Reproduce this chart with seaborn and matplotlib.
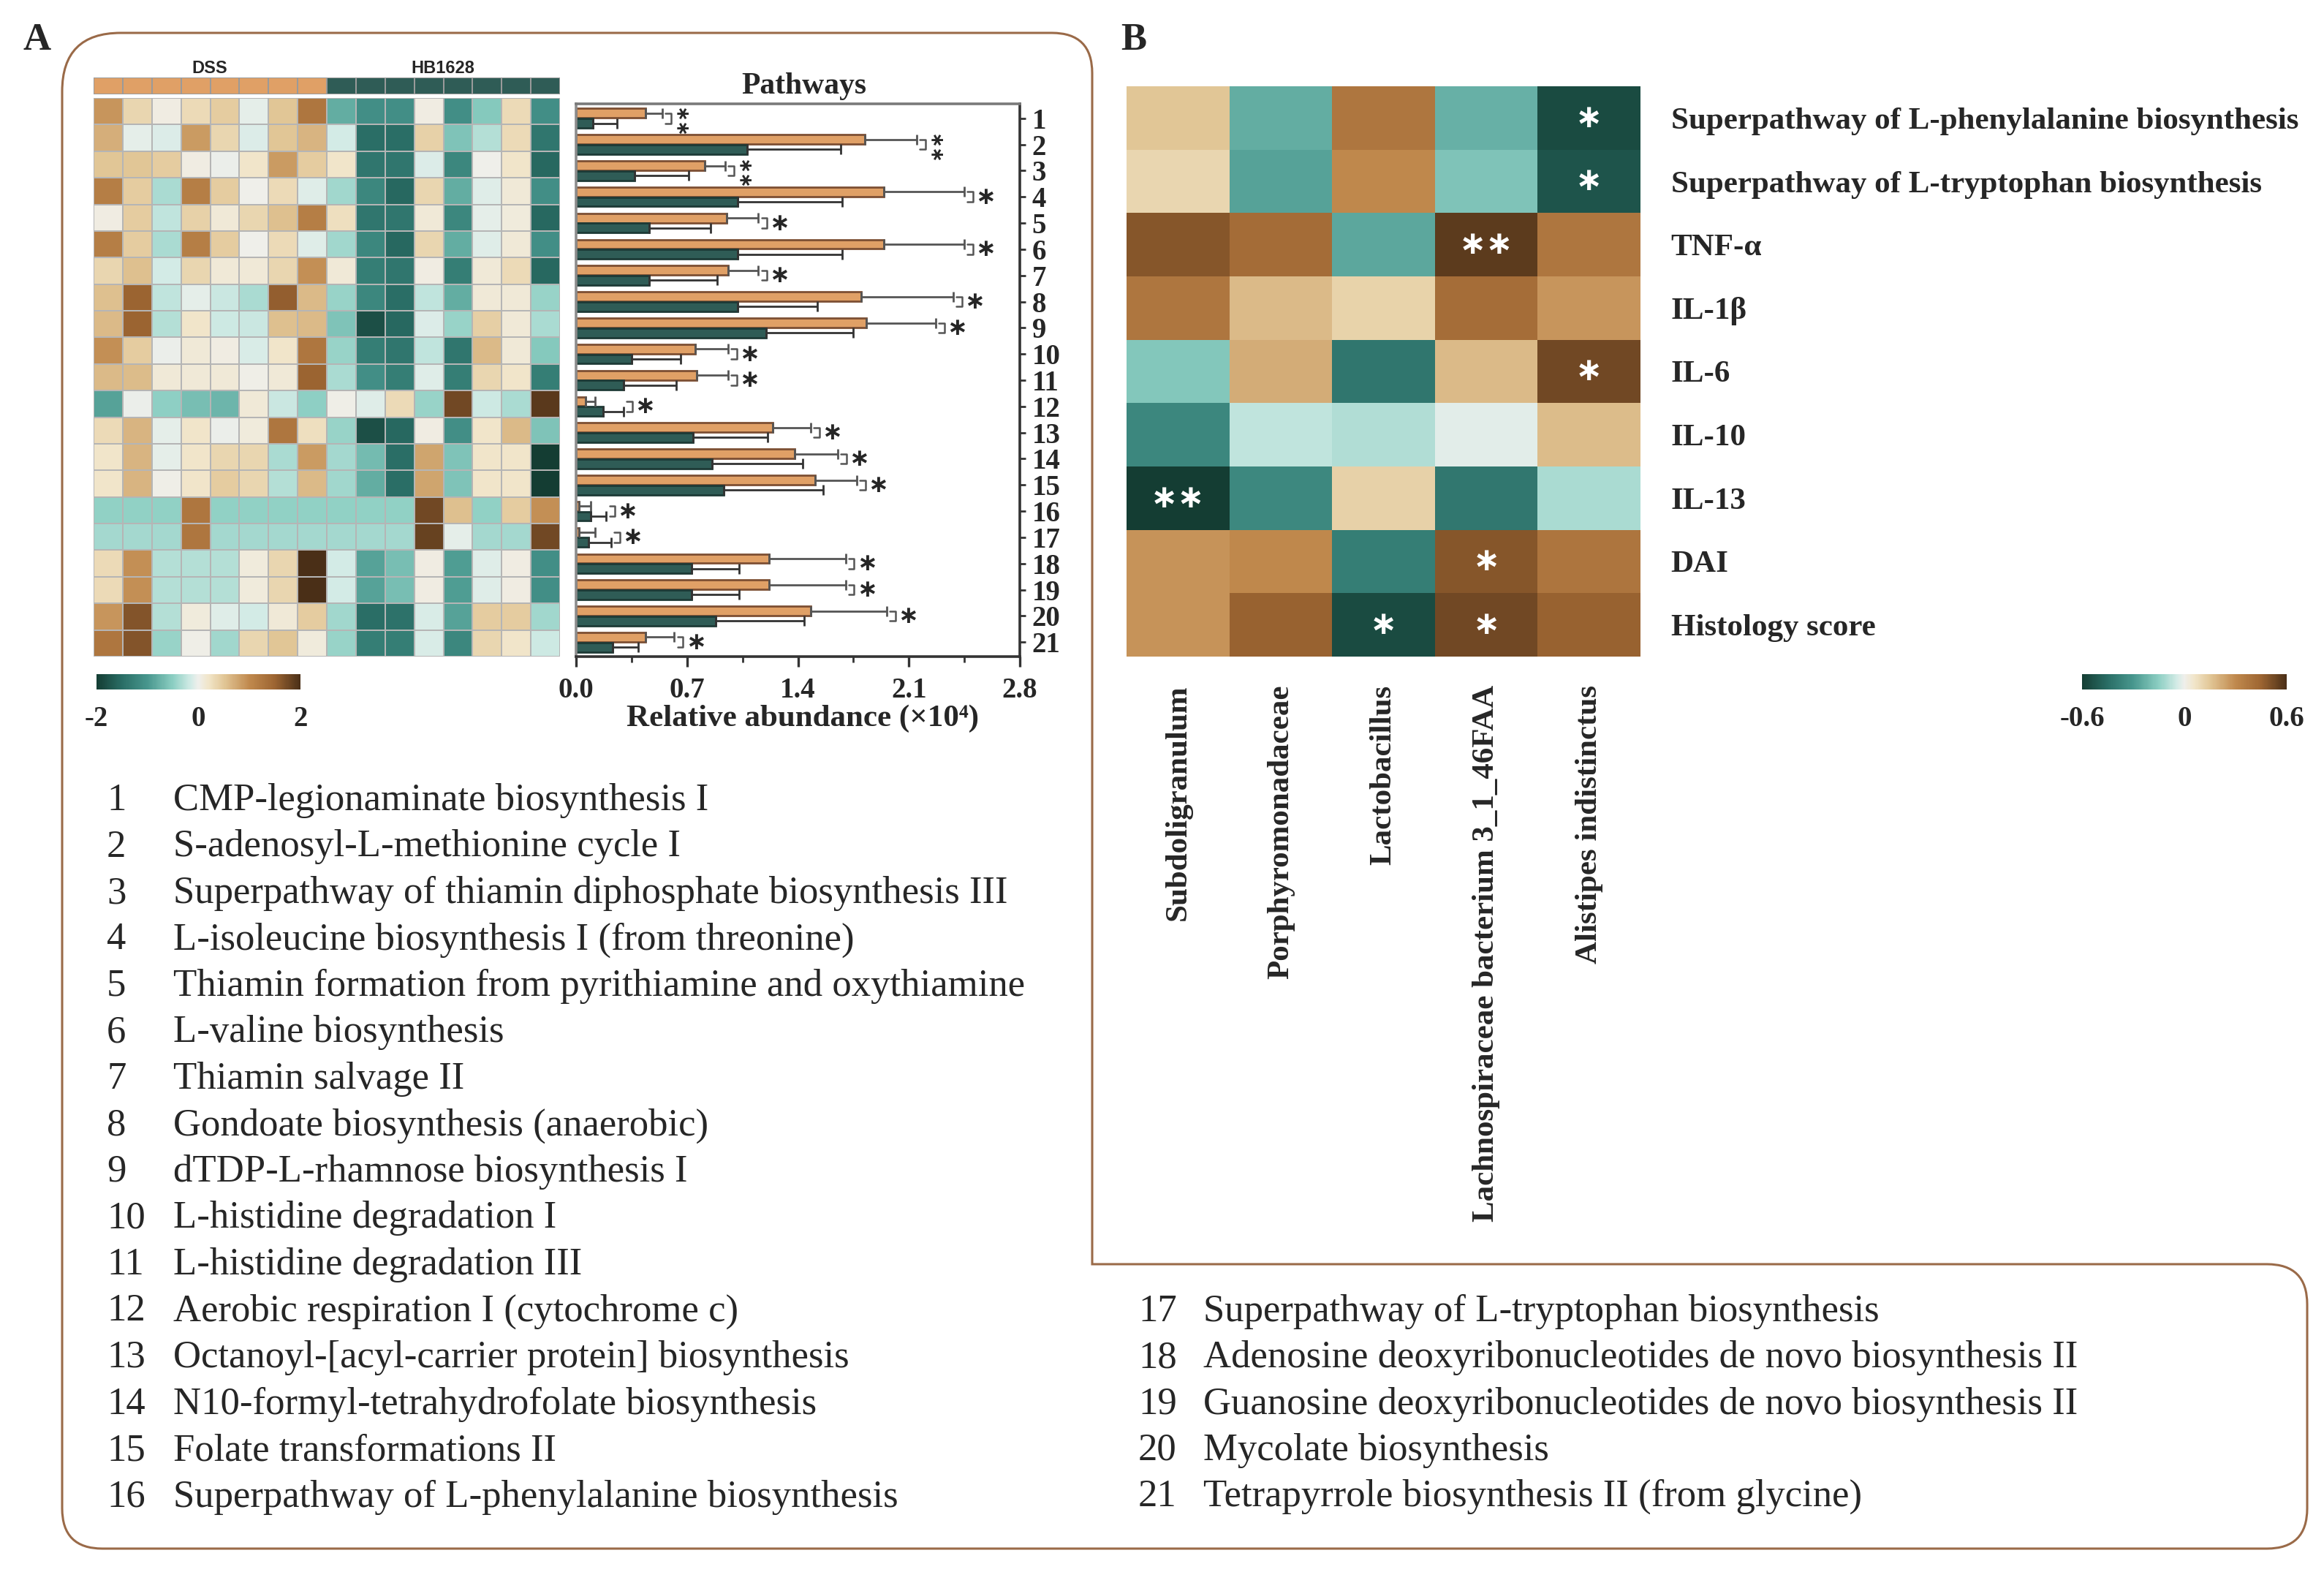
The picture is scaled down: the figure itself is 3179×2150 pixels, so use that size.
import numpy as np
import pandas as pd
import matplotlib
matplotlib.use("Agg")
import matplotlib.pyplot as plt
import seaborn as sns
from matplotlib.colors import LinearSegmentedColormap, ListedColormap
from matplotlib.path import Path
from matplotlib.patches import PathPatch
from matplotlib.ticker import MultipleLocator

# ---------------- data ----------------
pathway_ids = [str(i) for i in range(1, 22)]
pathway_names = [
    "CMP-legionaminate biosynthesis I",
    "S-adenosyl-L-methionine cycle I",
    "Superpathway of thiamin diphosphate biosynthesis III",
    "L-isoleucine biosynthesis I (from threonine)",
    "Thiamin formation from pyrithiamine and oxythiamine",
    "L-valine biosynthesis",
    "Thiamin salvage II",
    "Gondoate biosynthesis (anaerobic)",
    "dTDP-L-rhamnose biosynthesis I",
    "L-histidine degradation I",
    "L-histidine degradation III",
    "Aerobic respiration I (cytochrome c)",
    "Octanoyl-[acyl-carrier protein] biosynthesis",
    "N10-formyl-tetrahydrofolate biosynthesis",
    "Folate transformations II",
    "Superpathway of L-phenylalanine biosynthesis",
    "Superpathway of L-tryptophan biosynthesis",
    "Adenosine deoxyribonucleotides de novo biosynthesis II",
    "Guanosine deoxyribonucleotides de novo biosynthesis II",
    "Mycolate biosynthesis",
    "Tetrapyrrole biosynthesis II (from glycine)",
]

# relative abundance (x10^4), mean and SD
dss_mean = [0.44, 1.82, 0.81, 1.94, 0.95, 1.94, 0.96, 1.80, 1.83, 0.75, 0.76,
            0.06, 1.24, 1.38, 1.51, 0.02, 0.02, 1.22, 1.22, 1.48, 0.44]
dss_sd = [0.105, 0.33, 0.13, 0.51, 0.20, 0.51, 0.19, 0.58, 0.44, 0.21, 0.20,
          0.06, 0.24, 0.27, 0.26, 0.07, 0.10, 0.48, 0.48, 0.48, 0.18]
hb_mean = [0.106, 1.08, 0.37, 1.02, 0.46, 1.02, 0.46, 1.02, 1.20, 0.35, 0.30,
           0.17, 0.74, 0.86, 0.93, 0.09, 0.08, 0.73, 0.73, 0.88, 0.23]
hb_sd = [0.154, 0.59, 0.34, 0.66, 0.39, 0.66, 0.43, 0.50, 0.55, 0.31, 0.33,
         0.13, 0.47, 0.57, 0.63, 0.10, 0.14, 0.30, 0.30, 0.56, 0.16]
bar_sig = ["**", "**", "**"] + ["*"] * 18

# z-scores, 21 pathways x 16 samples (8 DSS, 8 HB1628)
sample_groups = ["DSS"] * 8 + ["HB1628"] * 8
heat_z = [
    [0.9, 0.35, 0.05, 0.3, 0.45, -0.05, 0.5, 1.25, -0.8, -1.1, -1.1, 0.05, -1.1, -0.55, 0.3, -1.1],
    [0.7, -0.05, -0.1, 0.85, 0.35, -0.1, 0.5, 0.65, -0.15, -1.5, -1.5, 0.4, -0.6, -0.3, 0.3, -1.4],
    [0.5, 0.5, 0.45, 0.05, -0.03, 0.2, 0.85, 0.45, 0.2, -1.4, -1.4, -0.1, -1.2, 0.0, 0.2, -1.55],
    [1.15, 0.45, -0.35, 1.15, 0.45, 0.0, 0.3, -0.08, -0.4, -1.2, -1.55, 0.35, -0.8, -0.08, 0.12, -1.1],
    [0.05, 0.45, -0.25, 0.4, 0.12, 0.35, 0.55, 1.15, 0.25, -1.4, -1.4, 0.12, -1.2, -0.05, 0.08, -1.55],
    [1.15, 0.45, -0.35, 1.15, 0.45, 0.0, 0.3, -0.08, -0.4, -1.2, -1.55, 0.35, -0.8, -0.08, 0.12, -1.1],
    [0.35, 0.55, -0.15, 0.35, 0.12, 0.12, 0.35, 0.95, 0.12, -1.3, -1.4, 0.05, -1.3, 0.12, 0.3, -1.55],
    [0.55, 1.5, -0.25, -0.05, -0.2, -0.35, 1.55, 0.6, -0.45, -1.2, -1.5, -0.25, -0.8, 0.12, 0.12, -0.45],
    [0.6, 1.5, -0.3, 0.2, -0.18, -0.2, 0.55, 0.6, -0.6, -1.8, -1.55, -0.1, -0.45, 0.42, 0.12, -0.35],
    [0.95, 0.45, -0.03, 0.12, 0.05, -0.12, 0.2, 1.25, -0.45, -1.3, -1.4, -0.25, -1.4, 0.6, 0.12, -0.55],
    [0.6, 0.58, 0.12, 0.12, 0.12, 0.02, 0.12, 1.5, -0.35, -1.1, -1.3, -0.08, -1.3, 0.35, 0.2, -1.3],
    [-0.9, -0.03, -0.5, -0.65, -0.72, 0.12, -0.2, -0.5, 0.02, -0.08, 0.3, -0.45, 1.75, -0.18, -0.35, 1.9],
    [0.3, 0.65, -0.05, 0.2, -0.03, 0.08, 1.25, 0.25, -0.45, -1.8, -1.55, 0.05, -1.1, 0.2, 0.6, -0.6],
    [0.2, 0.65, -0.05, 0.2, 0.35, 0.35, -0.35, 0.85, -0.38, -0.68, -1.5, 0.78, -0.6, 0.2, 0.2, -2.0],
    [0.2, 0.65, 0.02, 0.2, 0.45, 0.35, -0.3, 0.6, -0.4, -0.8, -1.5, 0.78, -0.6, 0.2, 0.2, -2.0],
    [-0.48, -0.48, -0.48, 1.25, -0.48, -0.48, -0.48, -0.48, -0.48, -0.48, -0.48, 1.75, 0.55, -0.48, 0.45, 0.95],
    [-0.38, -0.38, -0.38, 1.25, -0.38, -0.38, -0.38, -0.38, -0.38, -0.38, -0.38, 1.82, -0.05, -0.38, -0.38, 1.75],
    [0.3, 0.95, -0.3, -0.3, -0.3, 0.08, 0.35, 2.0, -0.15, -0.9, -0.65, 0.05, -0.95, -0.08, 0.05, -1.1],
    [0.3, 0.95, -0.3, -0.3, -0.3, 0.08, 0.35, 2.0, -0.15, -0.9, -0.65, 0.05, -0.95, -0.08, 0.05, -1.1],
    [0.9, 1.65, -0.3, 0.08, -0.08, -0.15, 0.12, 0.45, -0.4, -1.5, -1.45, -0.12, -0.9, 0.45, 0.45, -0.4],
    [1.25, 1.65, -0.45, 0.02, -0.4, 0.35, 0.5, 0.08, -0.45, -1.3, -1.3, -0.12, -1.2, 0.35, 0.2, -0.18],
]

# panel B: correlation between genera and pathways / indices
corr_rows = ["Superpathway of L-phenylalanine biosynthesis",
             "Superpathway of L-tryptophan biosynthesis",
             "TNF-\u03b1", "IL-1\u03b2", "IL-6", "IL-10", "IL-13", "DAI", "Histology score"]
corr_cols = ["Subdoligranulum", "Porphyromonadaceae", "Lactobacillus",
             "Lachnospiraceae bacterium 3_1_46FAA", "Alistipes indistinctus"]
corr_r = [
    [0.15, -0.24, 0.375, -0.23, -0.555],
    [0.105, -0.27, 0.30, -0.18, -0.525],
    [0.49, 0.42, -0.255, 0.565, 0.375],
    [0.375, 0.18, 0.115, 0.415, 0.27],
    [-0.17, 0.215, -0.42, 0.18, 0.525],
    [-0.36, -0.075, -0.095, -0.02, 0.175],
    [-0.60, -0.355, 0.12, -0.415, -0.105],
    [0.275, 0.30, -0.39, 0.49, 0.38],
    [0.275, 0.455, -0.555, 0.525, 0.455],
]
corr_sig = [
    ["", "", "", "", "*"],
    ["", "", "", "", "*"],
    ["", "", "", "**", ""],
    ["", "", "", "", ""],
    ["", "", "", "", "*"],
    ["", "", "", "", ""],
    ["**", "", "", "", ""],
    ["", "", "", "*", ""],
    ["", "", "*", "*", ""],
]

# ---------------- style ----------------
W, H, DPI = 3179, 2150, 200
ORANGE, GREEN = "#E0A066", "#2F5C56"
FRAME = "#9a6a48"

sns.set_style("white")
plt.rcParams["font.family"] = ["Liberation Serif", "DejaVu Serif"]
plt.rcParams["font.weight"] = "bold"

cmap = LinearSegmentedColormap.from_list("tealbrown", [
    (0.0, "#143d33"), (0.125, "#2a6e66"), (0.25, "#48978e"), (0.375, "#8dcfc3"),
    (0.4625, "#d3ebe6"), (0.5, "#efefeb"), (0.55, "#f1e5c9"), (0.625, "#e2c797"),
    (0.75, "#c0894d"), (0.875, "#9d6532"), (1.0, "#4a2f17")])


def box(x0, y0, x1, y1):
    return [x0 / W, 1 - y1 / H, (x1 - x0) / W, (y1 - y0) / H]


fig = plt.figure(figsize=(W / DPI, H / DPI), dpi=DPI)

# background layer for frame, labels and legend
bg = fig.add_axes([0, 0, 1, 1])
bg.set_xlim(0, W)
bg.set_ylim(H, 0)
bg.axis("off")

L, T, RA, S, RB, B = 85, 45, 1494, 1729, 3156, 2118
r1, r = 80, 55
verts = [(L, T + r1), (L, T), (L + r1, T), (RA - r, T), (RA, T), (RA, T + r),
         (RA, S), (RB - r, S), (RB, S), (RB, S + r), (RB, B - r), (RB, B), (RB - r, B),
         (L + r, B), (L, B), (L, B - r), (L, T + r1)]
codes = [Path.MOVETO, Path.CURVE3, Path.CURVE3, Path.LINETO, Path.CURVE3, Path.CURVE3,
         Path.LINETO, Path.LINETO, Path.CURVE3, Path.CURVE3, Path.LINETO, Path.CURVE3, Path.CURVE3,
         Path.LINETO, Path.CURVE3, Path.CURVE3, Path.CLOSEPOLY]
bg.add_patch(PathPatch(Path(verts, codes), facecolor="none", edgecolor=FRAME, lw=1.1))

bg.text(51, 55, "A", fontsize=19, ha="center", va="center")
bg.text(1551, 55, "B", fontsize=19, ha="center", va="center")

# ---------------- A: heatmap ----------------
ax_ann = fig.add_axes(box(128, 106, 766, 129))
grp = np.array([[0 if g == "DSS" else 1 for g in sample_groups]])
sns.heatmap(grp, cmap=ListedColormap([ORANGE, GREEN]), cbar=False, linewidths=0.6,
            linecolor="#9a9a9a", xticklabels=False, yticklabels=False, ax=ax_ann)
bg.text(287, 94, "DSS", fontsize=8.5, ha="center", va="center", family="Liberation Sans")
bg.text(606, 94, "HB1628", fontsize=8.5, ha="center", va="center", family="Liberation Sans")

ax_hm = fig.add_axes(box(128, 134, 766, 898))
sns.heatmap(np.array(heat_z), cmap=cmap, vmin=-2, vmax=2, cbar=False, linewidths=0.6,
            linecolor="#b5b5b5", xticklabels=False, yticklabels=False, ax=ax_hm)

cax_a = fig.add_axes(box(132, 922, 411, 943))
cb = fig.colorbar(ax_hm.collections[0], cax=cax_a, orientation="horizontal", ticks=[-2, 0, 2])
cb.outline.set_visible(False)
cb.ax.set_xticklabels(["-2", "0", "2"])
cb.ax.tick_params(length=0, pad=8, labelsize=14)

# ---------------- A: bars ----------------
ax_bar = fig.add_axes(box(788, 142, 1395, 898))
df_bar = pd.DataFrame({
    "pathway": pathway_ids * 2,
    "abundance": dss_mean + hb_mean,
    "group": ["DSS"] * 21 + ["HB1628"] * 21,
})
sns.barplot(data=df_bar, y="pathway", x="abundance", hue="group", orient="h",
            palette=[ORANGE, GREEN], width=0.76, gap=0.06, errorbar=None,
            legend=False, linewidth=1.0, saturation=1, ax=ax_bar)

tops = {}
for p in ax_bar.patches:
    yc = p.get_y() + p.get_height() / 2
    i = int(round(yc))
    upper = yc < i
    p.set_edgecolor("#7d4f33" if upper else "#1d3a36")
    sd = dss_sd[i] if upper else hb_sd[i]
    ax_bar.errorbar(p.get_width(), yc, xerr=[[0], [sd]], fmt="none",
                    ecolor="#555555" if upper else "#333333", elinewidth=1.0,
                    capsize=2.6, capthick=1.0)
    tops.setdefault(i, {})["o" if upper else "g"] = (yc, p.get_width() + sd)

for i, d in tops.items():
    yo, eo = d["o"]
    yg, eg = d["g"]
    xb = max(eo, eg) + 0.055
    ax_bar.plot([xb - 0.035, xb, xb, xb - 0.035], [yo, yo, yg, yg], color="#555555", lw=0.9)
    if bar_sig[i] == "**":
        ax_bar.text(xb + 0.07, i, "\u2217\u2217", rotation=90, ha="center", va="center",
                    fontsize=9, family="DejaVu Sans", fontweight="bold")
    else:
        ax_bar.text(xb + 0.08, i, "\u2217", ha="center", va="center",
                    fontsize=12, family="DejaVu Sans", fontweight="bold")

ax_bar.set_xlim(0, 2.8)
ax_bar.set_ylim(20.55, -0.55)
ax_bar.set_xticks([0, 0.7, 1.4, 2.1, 2.8])
ax_bar.set_xticklabels(["0.0", "0.7", "1.4", "2.1", "2.8"])
ax_bar.xaxis.set_minor_locator(MultipleLocator(0.35))
ax_bar.yaxis.tick_right()
ax_bar.set_xlabel("")
ax_bar.set_ylabel("")
ax_bar.tick_params(axis="x", which="major", length=5, width=1.2, pad=5, labelsize=14,
                   direction="out", bottom=True, color="#333333")
ax_bar.tick_params(axis="x", which="minor", length=3, width=1.0, direction="out",
                   bottom=True, color="#333333")
ax_bar.tick_params(axis="y", length=3, width=1.0, pad=3, labelsize=14, direction="out",
                   right=True, left=False, color="#333333")
for side, col in [("left", "#8c8c8c"), ("top", "#7a7a7a"), ("right", "#333333"), ("bottom", "#333333")]:
    ax_bar.spines[side].set_visible(True)
    ax_bar.spines[side].set_color(col)
    ax_bar.spines[side].set_linewidth(1.3)

bg.text(1100, 118, "Pathways", fontsize=15, ha="center", va="center")
bg.text(1098, 983, "Relative abundance (\u00d710\u2074)", fontsize=15.5, ha="center", va="center")

# ---------------- A: legend ----------------
for k in range(16):
    y = 1095 + 63.5 * k
    bg.text(146, y, pathway_ids[k], fontsize=19, fontweight="normal", va="center")
    bg.text(237, y, pathway_names[k], fontsize=19, fontweight="normal", va="center")
for k in range(16, 21):
    y = 1794 + 63.3 * (k - 16)
    bg.text(1557, y, pathway_ids[k], fontsize=19, fontweight="normal", va="center")
    bg.text(1646, y, pathway_names[k], fontsize=19, fontweight="normal", va="center")

# ---------------- B: correlation heatmap ----------------
ax_b = fig.add_axes(box(1541, 118, 2244, 898))
sig_txt = [[s.replace("*", "\u2217") for s in row] for row in corr_sig]
sns.heatmap(np.array(corr_r), cmap=cmap, vmin=-0.6, vmax=0.6, cbar=False,
            annot=np.array(sig_txt), fmt="",
            annot_kws={"color": "white", "fontsize": 16, "family": "DejaVu Sans"},
            xticklabels=corr_cols, yticklabels=corr_rows, ax=ax_b)
ax_b.yaxis.tick_right()
ax_b.set_yticklabels(corr_rows, rotation=0, ha="left")
ax_b.set_xticklabels(corr_cols, rotation=90, ha="center", va="top")
ax_b.tick_params(axis="y", length=0, pad=15, labelsize=15.5)
ax_b.tick_params(axis="x", length=0, pad=14, labelsize=15.5)

cax_b = fig.add_axes(box(2848, 922, 3128, 943))
cb2 = fig.colorbar(ax_b.collections[0], cax=cax_b, orientation="horizontal", ticks=[-0.6, 0, 0.6])
cb2.outline.set_visible(False)
cb2.ax.set_xticklabels(["-0.6", "0", "0.6"])
cb2.ax.tick_params(length=0, pad=8, labelsize=14)

fig.savefig("out.png", dpi=DPI)
